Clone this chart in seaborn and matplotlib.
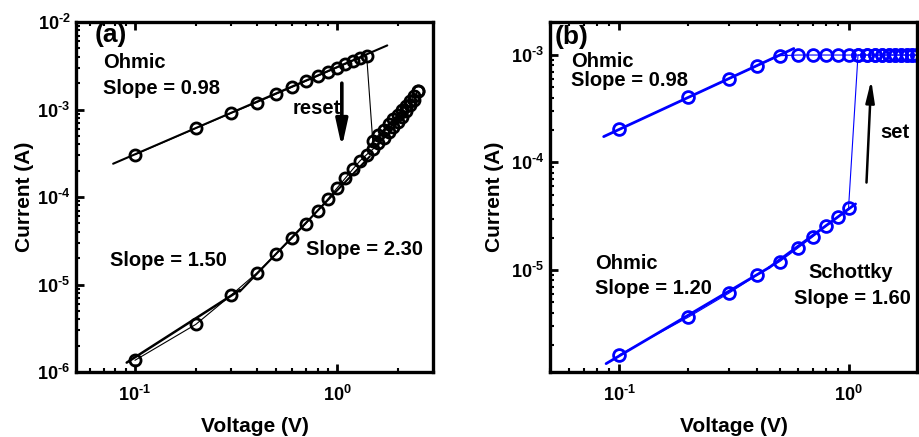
import matplotlib
matplotlib.use("Agg")
import matplotlib.pyplot as plt
import seaborn as sns
import numpy as np

# ---------------- data ----------------
# panel (a): reset sweep
a_fwd_V = [0.1, 0.2, 0.3, 0.4, 0.5, 0.6, 0.7, 0.8, 0.9, 1.0, 1.1, 1.2, 1.3, 1.4,
           1.5, 1.6, 1.7, 1.8, 1.9, 2.0, 2.1, 2.2, 2.3, 2.4, 2.5]
a_fwd_I = [3.05e-4, 6.1e-4, 9.1e-4, 1.2e-3, 1.5e-3, 1.8e-3, 2.1e-3, 2.4e-3, 2.7e-3,
           3.0e-3, 3.3e-3, 3.6e-3, 3.85e-3, 4.1e-3,
           4.4e-4, 5.1e-4, 5.9e-4, 6.8e-4, 7.7e-4, 8.7e-4, 9.8e-4, 1.1e-3, 1.25e-3,
           1.42e-3, 1.62e-3]
a_ret_V = [2.5, 2.4, 2.3, 2.2, 2.1, 2.0, 1.9, 1.8, 1.7, 1.6, 1.5, 1.4, 1.3, 1.2,
           1.1, 1.0, 0.9, 0.8, 0.7, 0.6, 0.5, 0.4, 0.3, 0.2, 0.1]
a_ret_I = [1.62e-3, 1.3e-3, 1.12e-3, 9.6e-4, 8.3e-4, 7.2e-4, 6.3e-4, 5.5e-4, 4.7e-4,
           4.1e-4, 3.5e-4, 3.05e-4, 2.6e-4, 2.1e-4, 1.65e-4, 1.27e-4, 9.5e-5, 7.0e-5,
           4.95e-5, 3.4e-5, 2.25e-5, 1.35e-5, 7.6e-6, 3.5e-6, 1.36e-6]
a_fit1_V = [0.078, 1.77]
a_fit1_I = [2.4e-4, 5.4e-3]
a_fit2_V = [0.091, 0.331]
a_fit2_I = [1.28e-6, 8.66e-6]
a_fit3_V = [0.33, 1.45]
a_fit3_I = [8.3e-6, 2.9e-4]

# panel (b): set sweep
b_fwd_V = [0.1, 0.2, 0.3, 0.4, 0.5, 0.6, 0.7, 0.8, 0.9, 1.0,
           1.1, 1.2, 1.3, 1.4, 1.5, 1.6, 1.7, 1.8, 1.9, 2.0]
b_fwd_I = [1.62e-6, 3.63e-6, 6.05e-6, 8.98e-6, 1.19e-5, 1.59e-5, 2.04e-5, 2.57e-5,
           3.1e-5, 3.75e-5,
           1.0e-3, 1.0e-3, 1.0e-3, 1.0e-3, 1.0e-3, 1.0e-3, 1.0e-3, 1.0e-3, 1.0e-3, 1.0e-3]
b_ret_V = [2.0, 1.9, 1.8, 1.7, 1.6, 1.5, 1.4, 1.3, 1.2, 1.1, 1.0, 0.9, 0.8, 0.7,
           0.6, 0.5, 0.4, 0.3, 0.2, 0.1]
b_ret_I = [1.0e-3, 1.0e-3, 1.0e-3, 1.0e-3, 1.0e-3, 1.0e-3, 1.0e-3, 1.0e-3, 1.0e-3,
           1.0e-3, 1.0e-3, 1.0e-3, 1.0e-3, 1.0e-3, 1.0e-3,
           9.85e-4, 7.95e-4, 6.0e-4, 4.04e-4, 2.04e-4]
b_fit1_V = [0.0854, 0.577]
b_fit1_I = [1.74e-4, 1.15e-3]
b_fit2_V = [0.0875, 0.45]
b_fit2_I = [1.34e-6, 1.05e-5]
b_fit3_V = [0.45, 1.073]
b_fit3_I = [1.05e-5, 4.11e-5]

x_ticks = [0.1, 1.0]
x_tick_labels = [r"$\mathbf{10^{\text{-}1}}$", r"$\mathbf{10^{0}}$"]
a_y_ticks = [1e-6, 1e-5, 1e-4, 1e-3, 1e-2]
a_y_tick_labels = [r"$\mathbf{10^{\text{-}6}}$", r"$\mathbf{10^{\text{-}5}}$",
                   r"$\mathbf{10^{\text{-}4}}$", r"$\mathbf{10^{\text{-}3}}$",
                   r"$\mathbf{10^{\text{-}2}}$"]
b_y_ticks = [1e-5, 1e-4, 1e-3]
b_y_tick_labels = [r"$\mathbf{10^{\text{-}5}}$", r"$\mathbf{10^{\text{-}4}}$",
                   r"$\mathbf{10^{\text{-}3}}$"]

# ---------------- style ----------------
sns.set_theme(style="white")
plt.rcParams["font.family"] = ["Liberation Sans", "DejaVu Sans"]
plt.rcParams["font.weight"] = "bold"
plt.rcParams["mathtext.fontset"] = "custom"
plt.rcParams["mathtext.bf"] = "Liberation Sans:bold"
plt.rcParams["mathtext.rm"] = "Liberation Sans:bold"
for k in ["text.color", "axes.labelcolor", "xtick.color", "ytick.color",
          "axes.edgecolor"]:
    plt.rcParams[k] = "black"

fig = plt.figure(figsize=(9.19, 4.37), dpi=100)
axA = fig.add_axes([76 / 919, 65 / 437, 357 / 919, 350 / 437])
axB = fig.add_axes([550 / 919, 65 / 437, 367 / 919, 350 / 437])

TXT = 14.5


def style_axes(ax, xlim, ylim, yt, ytl, ylab_x):
    ax.set_xscale("log")
    ax.set_yscale("log")
    ax.set_xlim(*xlim)
    ax.set_ylim(*ylim)
    ax.set_xticks(x_ticks)
    ax.set_xticklabels(x_tick_labels)
    ax.set_yticks(yt)
    ax.set_yticklabels(ytl)
    ax.xaxis.set_minor_locator(matplotlib.ticker.LogLocator(base=10, subs=np.arange(2, 10)))
    ax.yaxis.set_minor_locator(matplotlib.ticker.LogLocator(base=10, subs=np.arange(2, 10)))
    ax.xaxis.set_minor_formatter(matplotlib.ticker.NullFormatter())
    ax.yaxis.set_minor_formatter(matplotlib.ticker.NullFormatter())
    ax.tick_params(which="both", direction="in", top=True, right=False,
                   bottom=True, left=True, colors="black")
    ax.tick_params(which="major", length=6, width=2.0, labelsize=13)
    ax.tick_params(axis="y", which="major", pad=4)
    ax.tick_params(axis="x", which="major", pad=9)
    ax.tick_params(which="minor", length=3, width=1.5)
    for s in ax.spines.values():
        s.set_linewidth(2.4)
        s.set_color("black")
    ax.set_xlabel("Voltage (V)", fontsize=15, fontweight="bold", color="black")
    ax.set_ylabel("Current (A)", fontsize=15, fontweight="bold", color="black")
    ax.xaxis.set_label_coords(0.5, -0.128)
    ax.yaxis.set_label_coords(ylab_x, 0.5)
    ax.grid(False)


def sweep(ax, V, I, color, ms, mew):
    sns.lineplot(x=V, y=I, ax=ax, sort=False, estimator=None, color=color,
                 linewidth=0.8, marker="o", markersize=ms, markerfacecolor="none",
                 markeredgecolor=color, markeredgewidth=mew, legend=False)


def fit(ax, V, I, color, lw):
    sns.lineplot(x=V, y=I, ax=ax, sort=False, estimator=None, color=color,
                 linewidth=lw, legend=False)


# ---------------- panel (a) ----------------
sweep(axA, a_fwd_V, a_fwd_I, "black", 8, 2.0)
sweep(axA, a_ret_V, a_ret_I, "black", 8, 2.0)
fit(axA, a_fit1_V, a_fit1_I, "black", 1.5)
fit(axA, a_fit2_V, a_fit2_I, "black", 1.8)
fit(axA, a_fit3_V, a_fit3_I, "black", 1.5)
style_axes(axA, (0.0511, 2.98), (1e-6, 1e-2), a_y_ticks, a_y_tick_labels, -0.118)

axA.annotate("", xy=(1.055, 3.7e-4), xytext=(1.055, 2.0e-3),
             arrowprops=dict(arrowstyle="-|>,head_width=0.22,head_length=1.0",
                             color="black", lw=2.6, mutation_scale=16,
                             shrinkA=0, shrinkB=0))

fw = "bold"
axA.text(0.053, 0.963, "(a)", transform=axA.transAxes, fontsize=19, fontweight=fw,
         va="center", ha="left")
axA.text(0.0765, 0.883, "Ohmic", transform=axA.transAxes, fontsize=TXT, fontweight=fw,
         va="center", ha="left")
axA.text(0.0765, 0.809, "Slope = 0.98", transform=axA.transAxes, fontsize=TXT,
         fontweight=fw, va="center", ha="left")
axA.text(0.607, 0.754, "reset", transform=axA.transAxes, fontsize=TXT, fontweight=fw,
         va="center", ha="left")
axA.text(0.095, 0.32, "Slope = 1.50", transform=axA.transAxes, fontsize=TXT,
         fontweight=fw, va="center", ha="left")
axA.text(0.644, 0.351, "Slope = 2.30", transform=axA.transAxes, fontsize=TXT,
         fontweight=fw, va="center", ha="left")

# ---------------- panel (b) ----------------
sweep(axB, b_fwd_V, b_fwd_I, "blue", 8.5, 2.0)
sweep(axB, b_ret_V, b_ret_I, "blue", 8.5, 2.0)
fit(axB, b_fit1_V, b_fit1_I, "blue", 2.0)
fit(axB, b_fit2_V, b_fit2_I, "blue", 2.0)
fit(axB, b_fit3_V, b_fit3_I, "blue", 2.0)
style_axes(axB, (0.0498, 1.99), (1.12e-6, 2.03e-3), b_y_ticks, b_y_tick_labels, -0.125)

axB.annotate("", xy=(1.256, 5.85e-4), xytext=(1.198, 6.5e-5),
             arrowprops=dict(arrowstyle="-|>,head_width=0.2,head_length=1.0",
                             color="black", lw=1.8, mutation_scale=13,
                             shrinkA=0, shrinkB=0))

axB.text(0.0136, 0.957, "(b)", transform=axB.transAxes, fontsize=19, fontweight=fw,
         va="center", ha="left")
axB.text(0.0564, 0.886, "Ohmic", transform=axB.transAxes, fontsize=TXT, fontweight=fw,
         va="center", ha="left")
axB.text(0.0564, 0.834, "Slope = 0.98", transform=axB.transAxes, fontsize=TXT,
         fontweight=fw, va="center", ha="left")
axB.text(0.899, 0.683, "set", transform=axB.transAxes, fontsize=TXT, fontweight=fw,
         va="center", ha="left")
axB.text(0.1226, 0.311, "Ohmic", transform=axB.transAxes, fontsize=TXT, fontweight=fw,
         va="center", ha="left")
axB.text(0.1226, 0.24, "Slope = 1.20", transform=axB.transAxes, fontsize=TXT,
         fontweight=fw, va="center", ha="left")
axB.text(0.704, 0.283, "Schottky", transform=axB.transAxes, fontsize=TXT, fontweight=fw,
         va="center", ha="left")
axB.text(0.666, 0.209, "Slope = 1.60", transform=axB.transAxes, fontsize=TXT,
         fontweight=fw, va="center", ha="left")

fig.savefig("out.png", dpi=100)
